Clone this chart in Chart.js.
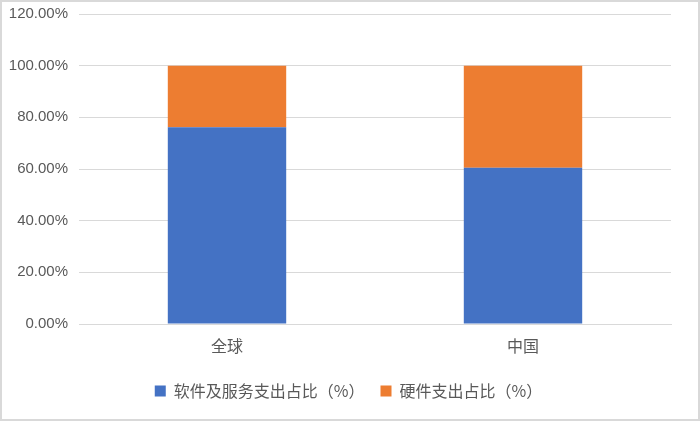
<!DOCTYPE html>
<html>
<head>
<meta charset="utf-8">
<script src="https://cdn.jsdelivr.net/npm/chart.js@4/dist/chart.umd.min.js"></script>
<style>
html,body{margin:0;padding:0;background:#fff;}
#wrap{position:relative;width:700px;height:421px;}
canvas{display:block;}
</style>
</head>
<body>
<div id="wrap"><canvas id="c" width="700" height="421"></canvas></div>
<script>
const categories = ['全球', '中国'];
const softwareShare = [76.2, 60.5];
const hardwareShare = [23.8, 39.5];
const seriesNames = ['软件及服务支出占比（%）', '硬件支出占比（%）'];
const yTickLabels = ['0.00%', '20.00%', '40.00%', '60.00%', '80.00%', '100.00%', '120.00%'];

const FONT = '"Noto Sans CJK SC", "Liberation Sans", sans-serif';

const borderPlugin = {
  id: 'frame',
  afterLayout(chart) {
    const lg = chart.legend;
    if (lg) { lg.left += 9.5; lg.right += 9.5; }
  },
  afterDraw(chart) {
    const ctx = chart.ctx;
    ctx.save();
    ctx.strokeStyle = '#d9d9d9';
    ctx.lineWidth = 2;
    ctx.strokeRect(1, 1, chart.width - 2, chart.height - 2);
    ctx.restore();
  }
};

new Chart(document.getElementById('c'), {
  type: 'bar',
  data: {
    labels: categories,
    datasets: [
      { label: seriesNames[0], data: softwareShare, backgroundColor: '#4472c4', barPercentage: 0.4, categoryPercentage: 1 },
      { label: seriesNames[1], data: hardwareShare, backgroundColor: '#ed7d31', barPercentage: 0.4, categoryPercentage: 1 }
    ]
  },
  options: {
    responsive: false,
    animation: false,
    devicePixelRatio: 1,
    layout: { padding: { left: 7, right: 29, top: 0, bottom: 12 } },
    plugins: {
      legend: {
        position: 'bottom',
        labels: {
          boxWidth: 11, boxHeight: 11, padding: 16,
          color: '#595959',
          font: { family: FONT, size: 16 }
        }
      },
      tooltip: { enabled: false }
    },
    scales: {
      x: {
        stacked: true,
        afterFit(scale) { scale.height = 43; },
        grid: { display: false, drawTicks: false },
        border: { color: '#d9d9d9', width: 1 },
        ticks: { color: '#595959', font: { family: FONT, size: 16 }, padding: 12 }
      },
      y: {
        stacked: true,
        min: 0, max: 120,
        afterFit(scale) { scale.width = 72; },
        grid: { color: '#d9d9d9', lineWidth: 1, drawTicks: false },
        border: { display: false },
        ticks: {
          stepSize: 20,
          padding: 11,
          color: '#595959',
          font: { family: '"Liberation Sans", sans-serif', size: 15, lineHeight: 0.4 },
          callback: (v, i) => yTickLabels[i]
        }
      }
    }
  },
  plugins: [borderPlugin]
});
</script>
</body>
</html>
